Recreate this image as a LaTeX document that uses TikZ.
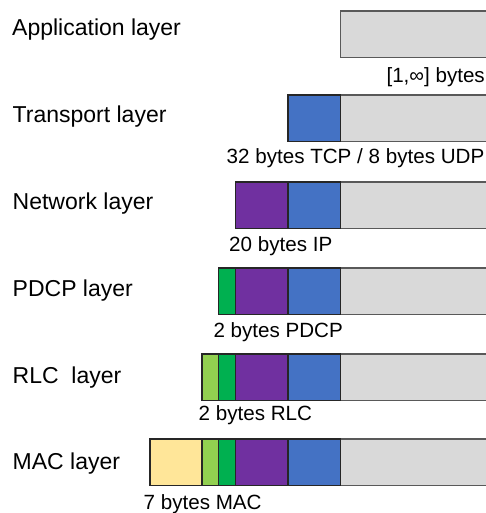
\documentclass[tikz,border=0pt]{standalone}
\usepackage{fontspec}
\setmainfont{Liberation Sans}
\definecolor{cgray}{HTML}{D9D9D9}
\definecolor{cblue}{HTML}{4472C4}
\definecolor{cpurple}{HTML}{7030A0}
\definecolor{cgreen}{HTML}{00B050}
\definecolor{clgreen}{HTML}{92D050}
\definecolor{cyellow}{HTML}{FFE699}
\begin{document}
\begin{tikzpicture}[x=1pt,y=-1pt,
  seg/.style={draw=black!85,line width=1.1pt,inner sep=0pt,outer sep=0pt,anchor=north west,minimum height=46.5pt},
  payload/.style={seg,fill=cgray,draw=black!65,minimum width=160pt},
  layertext/.style={anchor=base west,inner sep=0pt,font=\fontsize{23}{27}\selectfont},
  bytetext/.style={anchor=base west,inner sep=0pt,font=\fontsize{20.6}{24}\selectfont}]
\useasboundingbox (0,0) rectangle (486,513);
% Application
\node[layertext] (tapp) at (12,36) {Application layer};
\node[payload] (gapp) at (340.5,11) {};
\node[bytetext,anchor=base east] (lapp) at (485,83) {[1,∞] bytes};
% Transport
\node[layertext] (ttr) at (12.5,123) {Transport layer};
\node[payload] (gtr) at (340.5,95) {};
\node[seg,fill=cblue,minimum width=52.5pt] (btr) at (288,95) {};
\node[bytetext] (ltr) at (226.5,163.3) {32 bytes TCP / 8 bytes UDP};
% Network
\node[layertext] (tnw) at (12.5,209.5) {Network layer};
\node[payload] (gnw) at (340.5,182) {};
\node[seg,fill=cblue,minimum width=52.5pt] (bnw) at (288,182) {};
\node[seg,fill=cpurple,minimum width=52.5pt] (pnw) at (235.5,182) {};
\node[bytetext] (lnw) at (229,251) {20 bytes IP};
% PDCP
\node[layertext] (tpd) at (12.5,296) {PDCP layer};
\node[payload] (gpd) at (340.5,268) {};
\node[seg,fill=cblue,minimum width=52.5pt] (bpd) at (288,268) {};
\node[seg,fill=cpurple,minimum width=52.5pt] (ppd) at (235.5,268) {};
\node[seg,fill=cgreen,minimum width=17pt] (npd) at (218.5,268) {};
\node[bytetext] (lpd) at (213.3,337) {2 bytes PDCP};
% RLC
\node[layertext] (trl) at (12.5,383) {RLC\ \ layer};
\node[payload] (grl) at (340.5,354) {};
\node[seg,fill=cblue,minimum width=52.5pt] (brl) at (288,354) {};
\node[seg,fill=cpurple,minimum width=52.5pt] (prl) at (235.5,354) {};
\node[seg,fill=cgreen,minimum width=17pt] (nrl) at (218.5,354) {};
\node[seg,fill=clgreen,minimum width=16.5pt] (lgrl) at (202,354) {};
\node[bytetext] (lrl) at (198.5,420.5) {2 bytes RLC};
% MAC
\node[layertext] (tma) at (12.5,469) {MAC layer};
\node[payload] (gma) at (340.5,439) {};
\node[seg,fill=cblue,minimum width=52.5pt] (bma) at (288,439) {};
\node[seg,fill=cpurple,minimum width=52.5pt] (pma) at (235.5,439) {};
\node[seg,fill=cgreen,minimum width=17pt] (nma) at (218.5,439) {};
\node[seg,fill=clgreen,minimum width=16.5pt] (lgma) at (202,439) {};
\node[seg,fill=cyellow,minimum width=52pt] (yma) at (150,439) {};
\node[bytetext] (lma) at (143.5,509) {7 bytes MAC};
\end{tikzpicture}
\end{document}
